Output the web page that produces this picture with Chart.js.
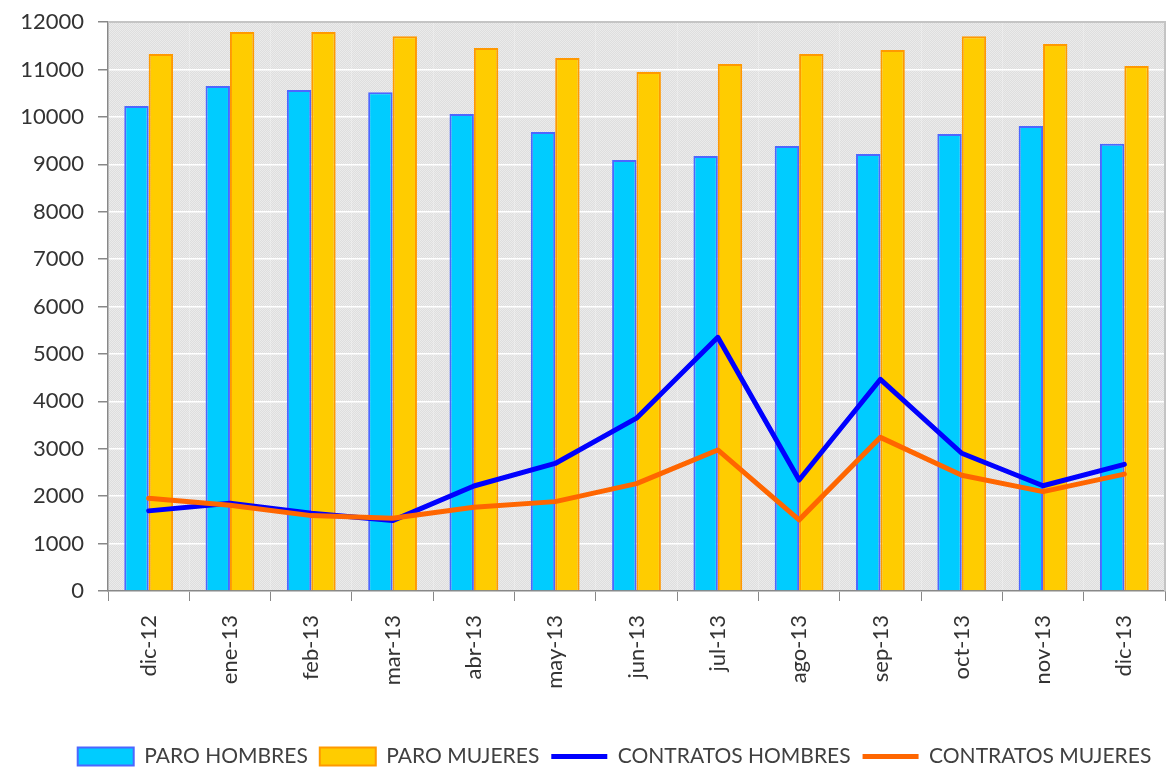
<!DOCTYPE html>
<html><head><meta charset="utf-8">
<script src="https://cdn.jsdelivr.net/npm/chart.js@4/dist/chart.umd.min.js"></script>
<style>html,body{margin:0;padding:0;background:#fff}</style>
</head><body>
<canvas id="c" width="1167" height="769"></canvas>
<script>
const categories = ['dic-12','ene-13','feb-13','mar-13','abr-13','may-13','jun-13','jul-13','ago-13','sep-13','oct-13','nov-13','dic-13'];
const paroHombres = [10230, 10650, 10565, 10520, 10060, 9680, 9090, 9175, 9385, 9215, 9640, 9805, 9430];
const paroMujeres = [11325, 11790, 11790, 11700, 11450, 11240, 10945, 11115, 11325, 11410, 11700, 11535, 11070];
const contratosHombres = [1690, 1850, 1640, 1485, 2215, 2690, 3645, 5350, 2340, 4465, 2905, 2220, 2670];
const contratosMujeres = [1955, 1810, 1590, 1535, 1765, 1885, 2265, 2975, 1500, 3240, 2440, 2095, 2465];
const yMin = 0, yMax = 12000, yStep = 1000;

const FONT = 'Lato, "Open Sans", sans-serif';

// background dotted pattern
const pc = document.createElement('canvas');
pc.width = 2; pc.height = 2;
const pctx = pc.getContext('2d');
pctx.fillStyle = '#dedede'; pctx.fillRect(0,0,2,2);
pctx.fillStyle = '#ebebeb'; pctx.fillRect(0,0,1,1); pctx.fillRect(1,1,1,1);

const bgPlugin = {
  id: 'bg',
  afterLayout(chart) {
    if (chart.legend) {
      chart.legend.top += 8; chart.legend.bottom += 8;
      chart.legend.left += 32; chart.legend.right += 32;
    }
  },
  beforeDraw(chart) {
    const {ctx, chartArea: a} = chart;
    ctx.save();
    ctx.fillStyle = ctx.createPattern(pc, 'repeat');
    ctx.fillRect(a.left, a.top, a.right - a.left, a.bottom - a.top);
    ctx.restore();
  },
  beforeDatasetsDraw(chart) {
    const {ctx, chartArea: a} = chart;
    ctx.save();
    ctx.strokeStyle = '#c4c4c4';
    ctx.lineWidth = 2;
    ctx.beginPath();
    ctx.moveTo(a.left, a.top);
    ctx.lineTo(a.right, a.top);
    ctx.lineTo(a.right, a.bottom);
    ctx.stroke();
    ctx.restore();
  }
};

new Chart(document.getElementById('c'), {
  type: 'bar',
  data: {
    labels: categories,
    datasets: [
      { label: 'PARO HOMBRES', data: paroHombres, backgroundColor: '#00ccff', borderColor: '#4d66ff', borderWidth: 2, pointStyle: 'rect', order: 2,
        categoryPercentage: 0.6, barPercentage: 1.0 },
      { label: 'PARO MUJERES', data: paroMujeres, backgroundColor: '#ffcc00', borderColor: '#ff9900', borderWidth: 2, pointStyle: 'rect', order: 2,
        categoryPercentage: 0.6, barPercentage: 1.0 },
      { type: 'line', label: 'CONTRATOS HOMBRES', data: contratosHombres, borderColor: '#0000ff', backgroundColor: '#0000ff', borderWidth: 5,
        pointRadius: 0, pointHoverRadius: 0, tension: 0, fill: false, pointStyle: 'line', order: 1, borderJoinStyle: 'round', borderCapStyle: 'round' },
      { type: 'line', label: 'CONTRATOS MUJERES', data: contratosMujeres, borderColor: '#ff6600', backgroundColor: '#ff6600', borderWidth: 5,
        pointRadius: 0, pointHoverRadius: 0, tension: 0, fill: false, pointStyle: 'line', order: 0, borderJoinStyle: 'round', borderCapStyle: 'round' }
    ]
  },
  options: {
    responsive: false,
    animation: false,
    layout: { padding: { top: 22, right: 2, left: 0, bottom: 0 } },
    plugins: {
      tooltip: { enabled: false },
      legend: {
        position: 'bottom',
        labels: {
          usePointStyle: true,
          pointStyleWidth: 56,
          boxHeight: 18,
          padding: 12,
          color: '#404040',
          font: { family: FONT, size: 21 },
          sort: (a, b) => a.datasetIndex - b.datasetIndex
        }
      }
    },
    scales: {
      x: {
        offset: true,
        grid: { offset: true, display: true, drawOnChartArea: true, color: 'rgba(255,255,255,0.25)', tickColor: '#888', tickLength: 10, lineWidth: 1 },
        border: { color: '#888', width: 1.5 },
        ticks: { autoSkip: false, minRotation: 90, maxRotation: 90, padding: 14, color: '#333', font: { family: FONT, size: 22 } },
        afterFit: (s) => { s.height = 135; }
      },
      y: {
        min: yMin, max: yMax,
        ticks: { stepSize: yStep, padding: 14, color: '#333', font: { family: FONT, size: 22 },
          callback: (v) => String(v) },
        grid: { color: '#ffffff', lineWidth: 1.5, tickColor: '#888', tickLength: 10 },
        border: { color: '#888', width: 1.5 },
        afterFit: (s) => { s.width = 108; s.paddingTop = 0; s.paddingBottom = 0; }
      }
    }
  },
  plugins: [bgPlugin]
});
</script>
</body></html>
